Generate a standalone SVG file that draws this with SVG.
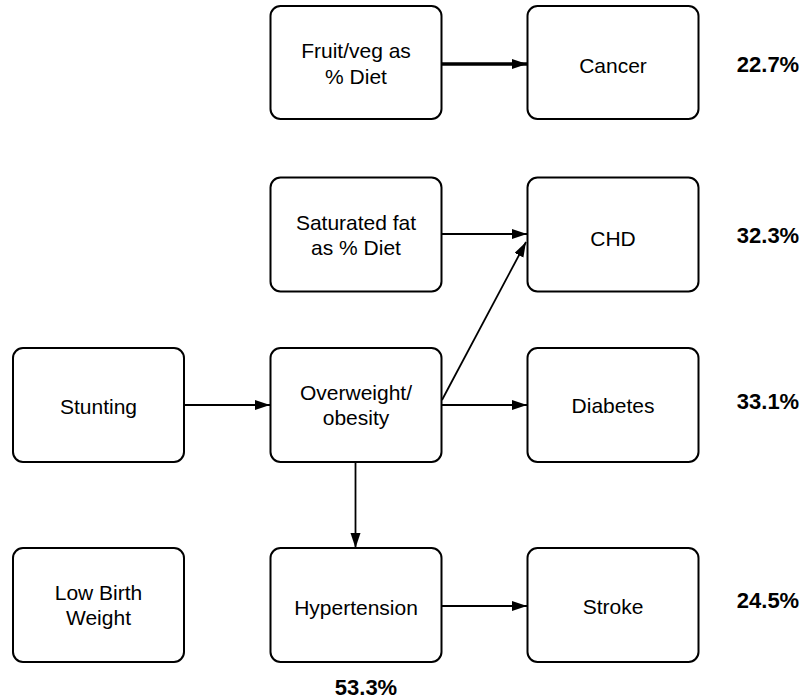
<svg xmlns="http://www.w3.org/2000/svg" width="808" height="700" viewBox="0 0 808 700">
<style>
.box{fill:#fff;stroke:#000;stroke-width:2}
.lbl{font-family:"Liberation Sans",Arial,sans-serif;font-size:21px;text-anchor:middle;fill:#000}
.pct{font-family:"Liberation Sans",Arial,sans-serif;font-size:22px;font-weight:bold;text-anchor:middle;fill:#000}
.edge{stroke:#000;stroke-width:1.8;fill:none;marker-end:url(#ah)}
</style>
<defs>
<marker id="ah" markerUnits="userSpaceOnUse" markerWidth="16" markerHeight="12" refX="15" refY="5" orient="auto">
<path d="M0,0 L15,5 L0,10 Z" fill="#000"/>
</marker>
</defs>
<rect width="808" height="700" fill="#fff"/>
<g id="connectors">
<line class="edge" x1="442" y1="64" x2="527" y2="64" style="stroke-width:3.4"/>
<line class="edge" x1="442" y1="234" x2="527" y2="234"/>
<line class="edge" x1="442" y1="400" x2="526" y2="242"/>
<line class="edge" x1="442" y1="405" x2="527" y2="405"/>
<line class="edge" x1="183" y1="405" x2="270" y2="405"/>
<line class="edge" x1="355.5" y1="462" x2="355.5" y2="548"/>
<line class="edge" x1="442" y1="606" x2="527" y2="606"/>
</g>
<g id="fruitveg"><rect class="box" x="270.5" y="6" width="171" height="113" rx="10"/><text class="lbl" x="356" y="58">Fruit/veg as</text><text class="lbl" x="356" y="84">% Diet</text></g>
<g id="cancer"><rect class="box" x="527.5" y="6" width="171" height="113" rx="10"/><text class="lbl" x="613" y="73">Cancer</text></g>
<g id="satfat"><rect class="box" x="270.5" y="177.5" width="171" height="114" rx="10"/><text class="lbl" x="356" y="230">Saturated fat</text><text class="lbl" x="356" y="255">as % Diet</text></g>
<g id="chd"><rect class="box" x="527.5" y="177.5" width="171" height="114" rx="10"/><text class="lbl" x="613" y="246">CHD</text></g>
<g id="stunting"><rect class="box" x="13" y="348" width="171" height="114" rx="10"/><text class="lbl" x="98.5" y="414">Stunting</text></g>
<g id="overweight"><rect class="box" x="270.5" y="348" width="171" height="114" rx="10"/><text class="lbl" x="356" y="400">Overweight/</text><text class="lbl" x="356" y="425">obesity</text></g>
<g id="diabetes"><rect class="box" x="527.5" y="348" width="171" height="114" rx="10"/><text class="lbl" x="613" y="413">Diabetes</text></g>
<g id="lbw"><rect class="box" x="13" y="548" width="171" height="114" rx="10"/><text class="lbl" x="98.5" y="600">Low Birth</text><text class="lbl" x="98.5" y="625">Weight</text></g>
<g id="hypertension"><rect class="box" x="270.5" y="548" width="171" height="114" rx="10"/><text class="lbl" x="356" y="615">Hypertension</text></g>
<g id="stroke"><rect class="box" x="527.5" y="548" width="171" height="114" rx="10"/><text class="lbl" x="613" y="614">Stroke</text></g>
<g id="percentages">
<text class="pct" x="768" y="72">22.7%</text>
<text class="pct" x="768" y="243">32.3%</text>
<text class="pct" x="768" y="409">33.1%</text>
<text class="pct" x="768" y="608">24.5%</text>
<text class="pct" x="366" y="695">53.3%</text>
</g>
</svg>
